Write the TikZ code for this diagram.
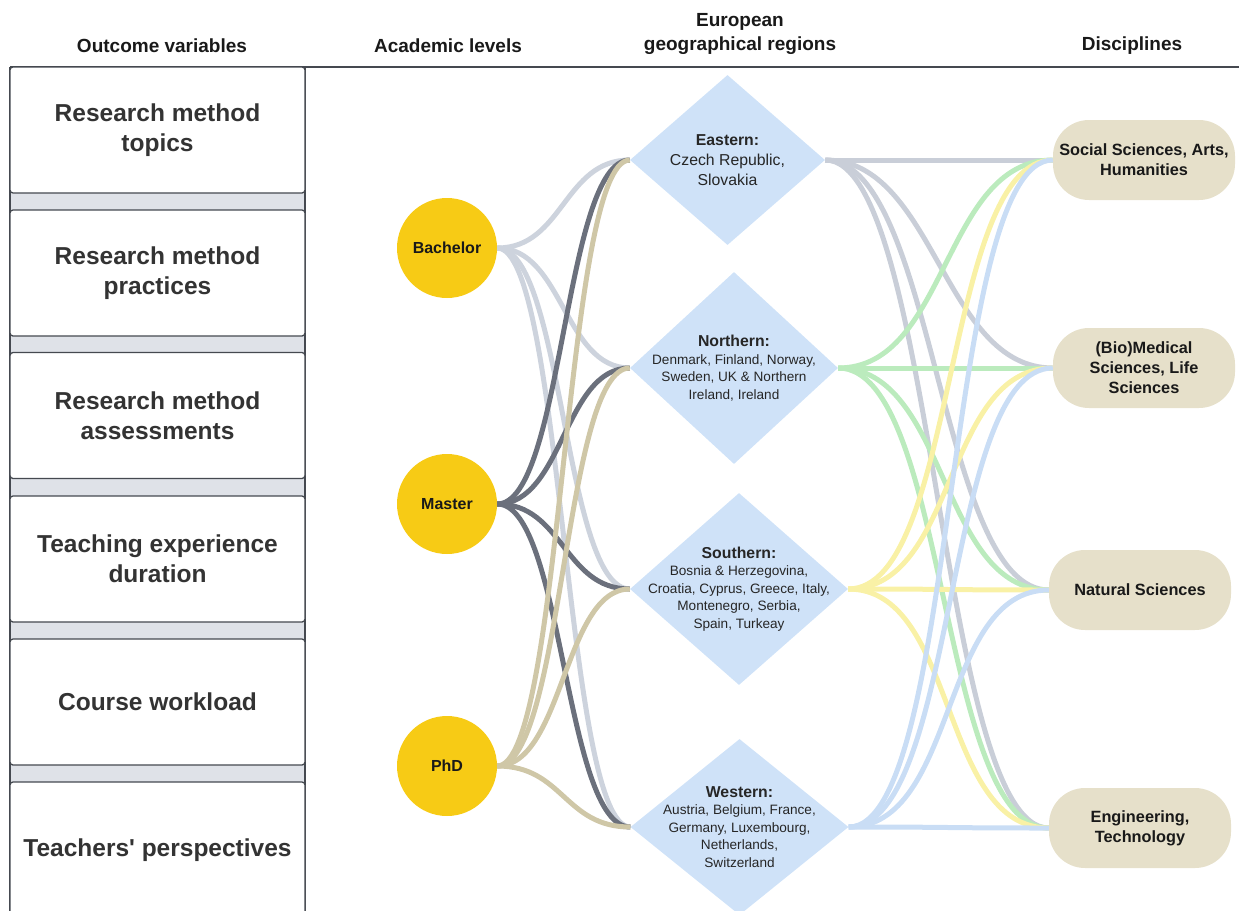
\documentclass[tikz,border=0pt]{standalone}
\usepackage{fontspec}
\setmainfont{Liberation Sans}
\usetikzlibrary{shapes.geometric}

\definecolor{boxline}{HTML}{454950}
\definecolor{gapgray}{HTML}{DFE2E8}
\definecolor{boxtext}{HTML}{333333}
\definecolor{lvlyellow}{HTML}{F7CB15}
\definecolor{regblue}{HTML}{CFE2F8}
\definecolor{discbeige}{HTML}{E6E0CA}
\definecolor{bachline}{HTML}{CDD3DD}
\definecolor{mastline}{HTML}{6B707C}
\definecolor{phdline}{HTML}{CFC7A7}
\definecolor{eastline}{HTML}{C9CED8}
\definecolor{northline}{HTML}{BBEBBD}
\definecolor{southline}{HTML}{F9F1A6}
\definecolor{westline}{HTML}{C9DDF5}

\begin{document}
\begin{tikzpicture}[x=1pt, y=-1pt,
    head/.style={font=\fontsize{19}{24}\selectfont\bfseries, align=center, text=black!90},
    outbox/.style={draw=boxline, fill=white, line width=1.3pt, rounded corners=3pt,
      minimum width=295pt, minimum height=126pt, align=center, text=boxtext,
      font=\fontsize{24.5}{30}\selectfont\bfseries},
    level/.style={circle, fill=lvlyellow, minimum size=100pt, inner sep=0pt,
      text=black!90, font=\fontsize{16}{18}\selectfont\bfseries},
    region/.style={diamond, fill=regblue, inner sep=0pt},
    regtext/.style={align=center, text=black!85, font=\fontsize{13.6}{17.5}\selectfont},
    disc/.style={rectangle, rounded corners=36pt, fill=discbeige, minimum width=182pt,
      minimum height=80pt, align=center, text=black!90,
      font=\fontsize{16.3}{20}\selectfont\bfseries},
    lvlink/.style={line width=5pt, out=0, in=180, distance=66pt},
    reglink/.style={line width=5pt, out=0, in=180, distance=110pt}]

    \useasboundingbox (0,0) rectangle (1239,910);
    \clip (0,0) rectangle (1239,910);

    % column headings
    \node[head] (h1) at (162,46) {Outcome variables};
    \node[head] (h2) at (448,46) {Academic levels};
    \node[head] (h3) at (740,34) {European\\geographical regions};
    \node[head] (h4) at (1132,46) {Disciplines};

    % outcome variables column
    \fill[gapgray] (10,67) rectangle (305,915);
    \draw[boxline, line width=1.3pt] (10,67) -- (10,915) (305,67) -- (305,915);
    \draw[boxline, line width=1.3pt] (10,67) -- (1239,67);
    \node[outbox] (o1) at (157.5,130) {Research method\\topics};
    \node[outbox] (o2) at (157.5,273) {Research method\\practices};
    \node[outbox] (o3) at (157.5,415.5) {Research method\\assessments};
    \node[outbox] (o4) at (157.5,559) {Teaching experience\\duration};
    \node[outbox] (o5) at (157.5,702) {Course workload};
    \node[outbox, minimum height=136pt] (o6) at (157.5,850) {\raisebox{3pt}{Teachers\textquotesingle{} perspectives}};

    % academic levels
    \node[level] (bach) at (447,248) {Bachelor};
    \node[level] (mast) at (447,504) {Master};
    \node[level] (phd) at (447,766) {PhD};

    % regions
    \node[region, minimum width=195pt, minimum height=170pt,
      label={[regtext, font=\fontsize{15.8}{20}\selectfont]center:{{\bfseries Eastern:}\\Czech Republic,\\Slovakia}}]
      (eastern) at (727.5,160) {};
    \node[region, minimum width=208pt, minimum height=192pt,
      label={[regtext]center:{{\fontsize{15.8}{18}\selectfont\bfseries Northern:}\\Denmark, Finland, Norway,\\Sweden, UK \& Northern\\Ireland, Ireland}}]
      (northern) at (734,368) {};
    \node[region, minimum width=218pt, minimum height=192pt,
      label={[regtext]center:{{\fontsize{15.8}{18}\selectfont\bfseries Southern:}\\Bosnia \& Herzegovina,\\Croatia, Cyprus, Greece, Italy,\\Montenegro, Serbia,\\Spain, Turkeay}}]
      (southern) at (739,589) {};
    \node[region, minimum width=218pt, minimum height=176pt,
      label={[regtext]center:{{\fontsize{15.8}{18}\selectfont\bfseries Western:}\\Austria, Belgium, France,\\Germany, Luxembourg,\\Netherlands,\\Switzerland}}]
      (western) at (739.5,827) {};

    % disciplines
    \node[disc] (soc) at (1144,160) {Social Sciences, Arts,\\Humanities};
    \node[disc] (med) at (1144,368) {(Bio)Medical\\Sciences, Life\\Sciences};
    \node[disc] (nat) at (1140,590) {Natural Sciences};
    \node[disc] (eng) at (1140,828) {Engineering,\\Technology};

    % levels to regions
    \draw[lvlink, bachline] (bach.east) to (eastern.west);
    \draw[lvlink, bachline] (bach.east) to (northern.west);
    \draw[lvlink, bachline] (bach.east) to (southern.west);
    \draw[lvlink, bachline] (bach.east) to (western.west);
    \draw[lvlink, mastline] (mast.east) to (eastern.west);
    \draw[lvlink, mastline] (mast.east) to (northern.west);
    \draw[lvlink, mastline] (mast.east) to (southern.west);
    \draw[lvlink, mastline] (mast.east) to (western.west);
    \draw[lvlink, phdline] (phd.east) to (eastern.west);
    \draw[lvlink, phdline] (phd.east) to (northern.west);
    \draw[lvlink, phdline] (phd.east) to (southern.west);
    \draw[lvlink, phdline] (phd.east) to (western.west);

    % regions to disciplines
    \draw[reglink, eastline] (eastern.east) to (soc.west);
    \draw[reglink, eastline] (eastern.east) to (med.west);
    \draw[reglink, eastline] (eastern.east) to (nat.west);
    \draw[reglink, eastline] (eastern.east) to (eng.west);
    \draw[reglink, northline] (northern.east) to (soc.west);
    \draw[reglink, northline] (northern.east) to (med.west);
    \draw[reglink, northline] (northern.east) to (nat.west);
    \draw[reglink, northline] (northern.east) to (eng.west);
    \draw[reglink, southline] (southern.east) to (soc.west);
    \draw[reglink, southline] (southern.east) to (med.west);
    \draw[reglink, southline] (southern.east) to (nat.west);
    \draw[reglink, southline] (southern.east) to (eng.west);
    \draw[reglink, westline] (western.east) to (soc.west);
    \draw[reglink, westline] (western.east) to (med.west);
    \draw[reglink, westline] (western.east) to (nat.west);
    \draw[reglink, westline] (western.east) to (eng.west);
\end{tikzpicture}
\end{document}
